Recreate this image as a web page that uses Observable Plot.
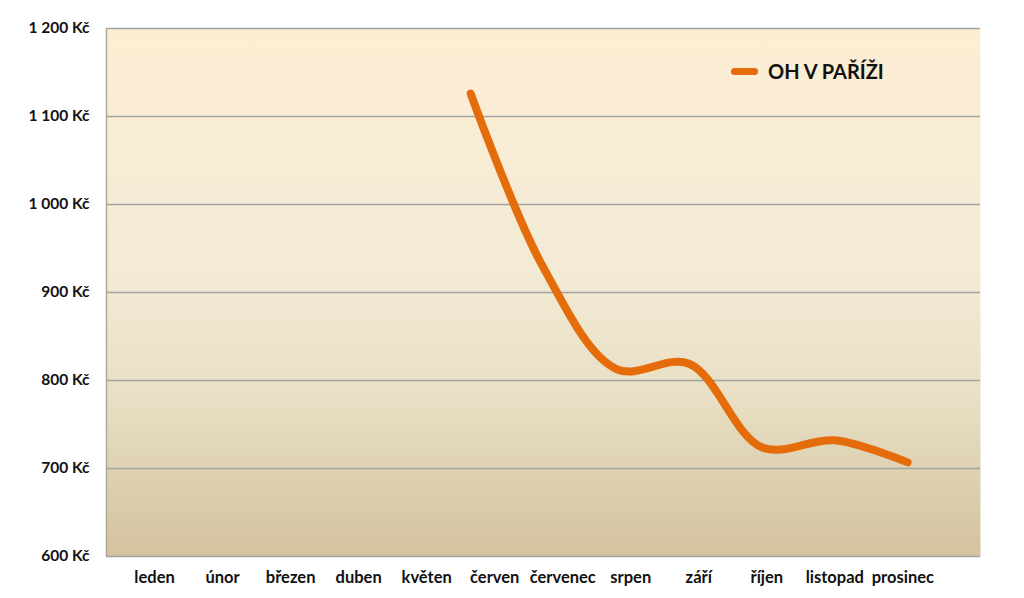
<!DOCTYPE html>
<html>
<head>
<meta charset="utf-8">
<script src="https://cdn.jsdelivr.net/npm/d3@7"></script>
<script src="https://cdn.jsdelivr.net/npm/@observablehq/plot@0.6"></script>
<style>
  html, body { margin: 0; padding: 0; background: #ffffff; }
  #chart { position: relative; width: 1024px; height: 598px; font-family: Lato, "Open Sans", sans-serif; }
  #legend { position: absolute; left: 731px; top: 59px; display: flex; align-items: center; font-weight: bold; font-size: 20px; color: #111; }
  #legend .sw { width: 27px; height: 7px; border-radius: 4px; background: #e46c0a; margin-right: 10px; }
</style>
</head>
<body>
<div id="chart"></div>
<script>
// ---- data ----
const months = ["leden", "únor", "březen", "duben", "květen", "červen", "červenec", "srpen", "září", "říjen", "listopad", "prosinec"];
const prices = [null, null, null, null, null, 1126, 928, 813, 819, 724, 732, 707];
const yTicks = [600, 700, 800, 900, 1000, 1100, 1200];
const seriesName = "OH V PAŘÍŽI";

const rows = months.map((m, i) => ({ i, m, v: prices[i] })).filter(d => d.v != null);
const fmtKc = d => String(d).replace(/\B(?=(\d{3})+(?!\d))/g, " ") + " Kč";

const plot = Plot.plot({
  width: 1024,
  height: 598,
  marginLeft: 106,
  marginRight: 44,
  marginTop: 28,
  marginBottom: 42,
  style: { fontFamily: "Lato, 'Open Sans', sans-serif", fontSize: "15px", fontWeight: "bold", color: "#111", background: "transparent", overflow: "visible" },
  x: { domain: [0, 12], axis: null },
  y: { domain: [600, 1200], axis: null },
  marks: [
    Plot.frame({ fill: "url(#bgGrad)", stroke: null }),
    Plot.gridY(yTicks, { stroke: "#a3a3a3", strokeOpacity: 1, strokeWidth: 1.3 }),
    Plot.ruleX([0], { stroke: "#b0a898", strokeWidth: 1.5 }),
    Plot.axisY(yTicks, { label: null, tickSize: 0, tickPadding: 17, tickFormat: fmtKc, fontSize: 15.5, fontWeight: "bold", fill: "#111" }),
    Plot.text(months, { x: (d, i) => 0.66 + 0.934 * i, frameAnchor: "bottom", dy: 21, lineAnchor: "middle", text: d => d, fontSize: 16.5, fontWeight: "bold", fill: "#111" }),
    Plot.line(rows, { x: "i", y: "v", stroke: "#e46c0a", strokeWidth: 8, curve: "catmull-rom", strokeLinecap: "round", strokeLinejoin: "round" })
  ]
});

const svg = d3.select(plot);
const defs = svg.insert("defs", ":first-child");
const grad = defs.append("linearGradient").attr("id", "bgGrad").attr("x1", 0).attr("x2", 0).attr("y1", 0).attr("y2", 1);
[[0, "#fdeed3"], [0.45, "#f3ebd6"], [0.7, "#e8dfc4"], [1, "#d3c29e"]].forEach(([o, c]) =>
  grad.append("stop").attr("offset", o).attr("stop-color", c));

const chart = document.getElementById("chart");
chart.appendChild(plot);
const legend = document.createElement("div");
legend.id = "legend";
legend.innerHTML = `<span class="sw"></span><span>${seriesName}</span>`;
chart.appendChild(legend);
</script>
</body>
</html>
